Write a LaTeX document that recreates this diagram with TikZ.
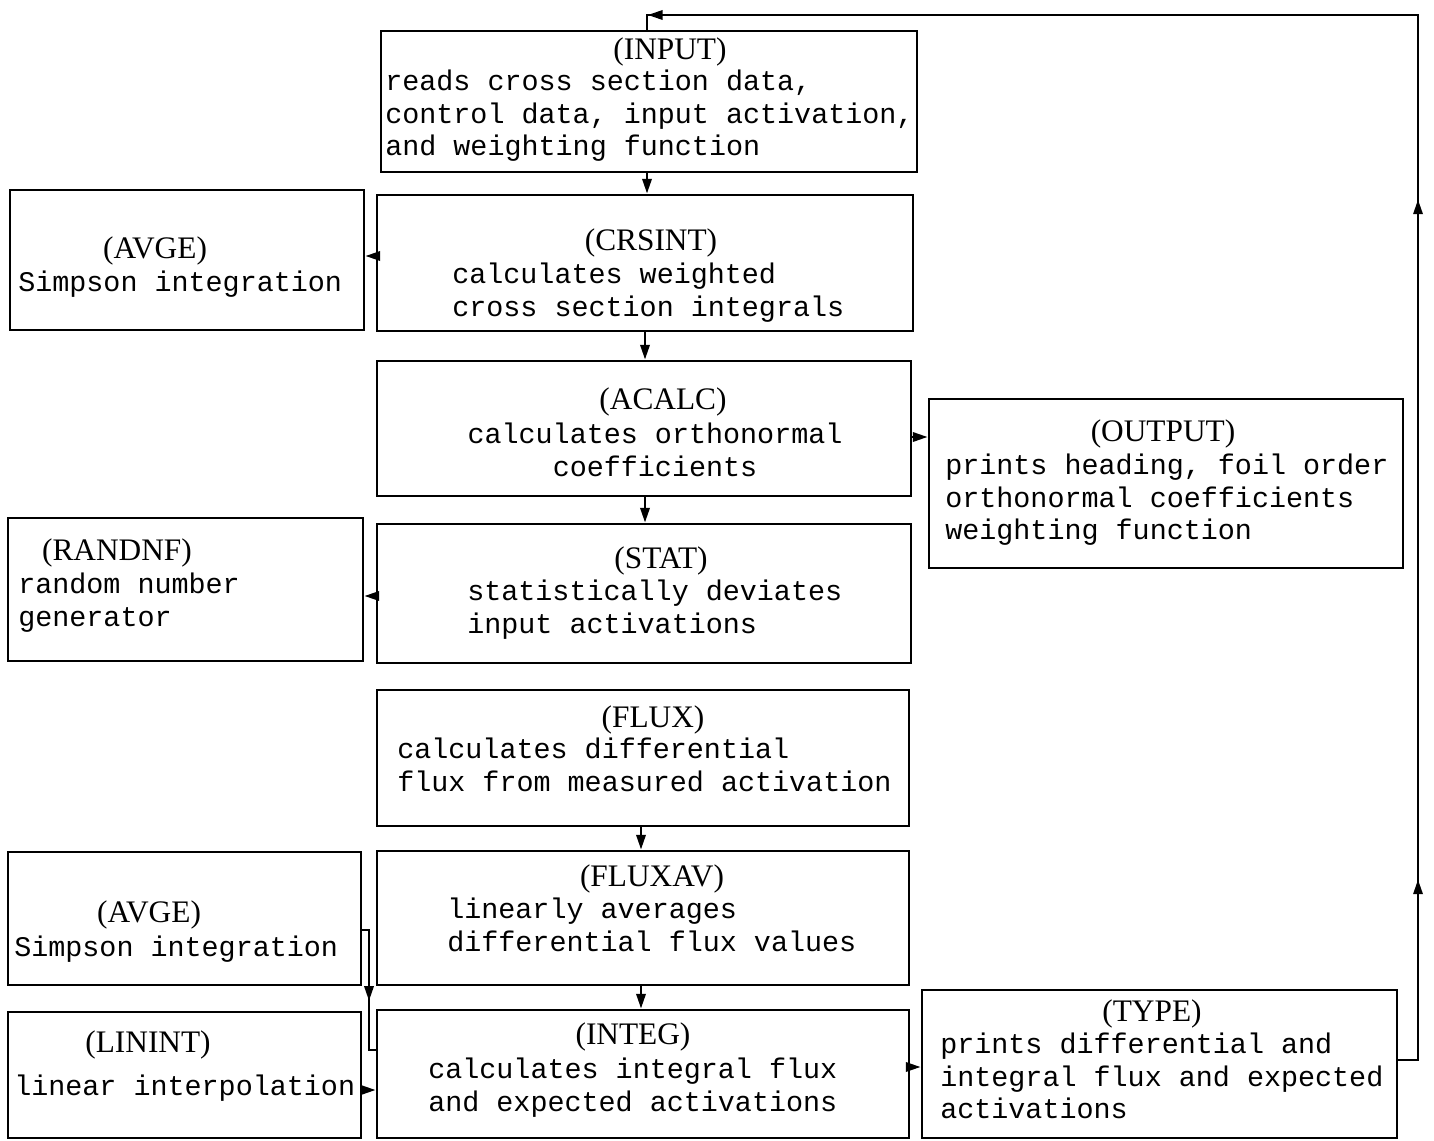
\documentclass[tikz,border=0pt]{standalone}
\usepackage{fontspec}
\setmainfont{Liberation Serif}
\newfontfamily\typew{Liberation Mono}
\usetikzlibrary{arrows.meta,decorations.markings,fit}
\begin{document}
\begin{tikzpicture}[x=0.75pt,y=-0.75pt,
  box/.style={draw, line width=2.2pt, inner sep=0pt},
  pname/.style={inner sep=0pt, font=\fontsize{23.5}{27}\selectfont},
  body/.style={inner sep=0pt, anchor=north west, align=left, font=\typew\fontsize{21.3}{24.2}\selectfont},
  bodyc/.style={inner sep=0pt, anchor=north, align=center, font=\typew\fontsize{21.3}{24.2}\selectfont},
  conn/.style={line width=1.7pt},
  tipx/.style={},
  arr/.style={conn, -{Triangle[length=11pt,width=7pt]}}]
\useasboundingbox[fill=white] (0,0) rectangle (1434,1141);

% boxes
\node[box, fit={(381,31) (917,172)}] (input) {};
\node[box, fit={(377,195) (913,331)}] (crsint) {};
\node[box, fit={(10,190) (364,330)}] (avge1) {};
\node[box, fit={(377,361) (911,496)}] (acalc) {};
\node[box, fit={(929,399) (1403,568)}] (output) {};
\node[box, fit={(377,524) (911,663)}] (stat) {};
\node[box, fit={(8,518) (363,661)}] (randnf) {};
\node[box, fit={(377,690) (909,826)}] (flux) {};
\node[box, fit={(377,851) (909,985)}] (fluxav) {};
\node[box, fit={(8,852) (361,985)}] (avge2) {};
\node[box, fit={(377,1010) (909,1138)}] (integ) {};
\node[box, fit={(8,1012) (361,1138)}] (linint) {};
\node[box, fit={(922,990) (1397,1138)}] (type) {};

% texts
\node[pname] (inputN) at (670,52) {(INPUT)};
\node[body] (inputB) at (385,70) {reads cross section data,\\control data, input activation,\\and weighting function};

\node[pname] (crsintN) at (651,243) {(CRSINT)};
\node[body] (crsintB) at (452,263) {calculates weighted\\cross section integrals};

\node[pname] (avge1N) at (155,251) {(AVGE)};
\node[body] (avge1B) at (18,271) {Simpson integration};

\node[pname] (acalcN) at (663,402) {(ACALC)};
\node[bodyc] (acalcB) at (655,423) {calculates orthonormal\\coefficients};

\node[pname] (outputN) at (1163,434) {(OUTPUT)};
\node[body] (outputB) at (945,454) {prints heading, foil order\\orthonormal coefficients\\weighting function};

\node[pname] (statN) at (661,561) {(STAT)};
\node[body] (statB) at (467,580) {statistically deviates\\input activations};

\node[pname] (randnfN) at (117,553) {(RANDNF)};
\node[body] (randnfB) at (18,573) {random number\\generator};

\node[pname] (fluxN) at (653,720) {(FLUX)};
\node[body] (fluxB) at (397,738) {calculates differential\\flux from measured activation};

\node[pname] (fluxavN) at (652,879) {(FLUXAV)};
\node[body] (fluxavB) at (447,898) {linearly averages\\differential flux values};

\node[pname] (avge2N) at (149,915) {(AVGE)};
\node[body] (avge2B) at (14,936) {Simpson integration};

\node[pname] (integN) at (633,1037) {(INTEG)};
\node[body] (integB) at (428,1058) {calculates integral flux\\and expected activations};

\node[pname] (linintN) at (148,1045) {(LININT)};
\node[body] (linintB) at (14,1075) {linear interpolation};

\node[pname] (typeN) at (1152,1014) {(TYPE)};
\node[body] (typeB) at (940,1033) {prints differential and\\integral flux and expected\\activations};

% connectors
\draw[arr] (input.south -| 647,0) -- (crsint.north -| 647,0);
\draw[arr] (crsint.west |- 0,256) -- (avge1.east |- 0,256);
\draw[arr] (crsint.south -| 645,0) -- (acalc.north -| 645,0);
\draw[arr] (acalc.east |- 0,437) -- (output.west |- 0,437);
\draw[arr] (acalc.south -| 645,0) -- (stat.north -| 645,0);
\draw[arr] (stat.west |- 0,596) -- (randnf.east |- 0,596);
\draw[arr] (flux.south -| 641,0) -- (fluxav.north -| 641,0);
\draw[arr] (fluxav.south -| 641,0) -- (integ.north -| 641,0);
\draw[conn, postaction={decorate}, decoration={markings,
   mark=at position 58pt with {\arrow{Triangle[length=11pt,width=7pt]}}}]
  (avge2.east |- 0,930) -- (369,930) -- (369,1050) -- (integ.west |- 0,1050);
\draw[arr] (linint.east |- 0,1090) -- (integ.west |- 0,1090);
\draw[arr] (integ.east |- 0,1067) -- (type.west |- 0,1067);

\coordinate (loopA) at (1418,1060);
\coordinate (loopB) at (1418,15);
\coordinate (loopC) at (647,15);
\draw[conn, postaction={decorate}, decoration={markings,
   mark=at position 150pt with {\arrow{Triangle[length=11pt,width=7pt]}},
   mark=at position 660pt with {\arrow{Triangle[length=11pt,width=7pt]}},
   mark=at position 1376pt with {\arrow{Triangle[length=11pt,width=7pt]}}}]
  (type.east |- loopA) -- (loopA) -- (loopB) -- (loopC) -- (input.north -| loopC);
\end{tikzpicture}
\end{document}
